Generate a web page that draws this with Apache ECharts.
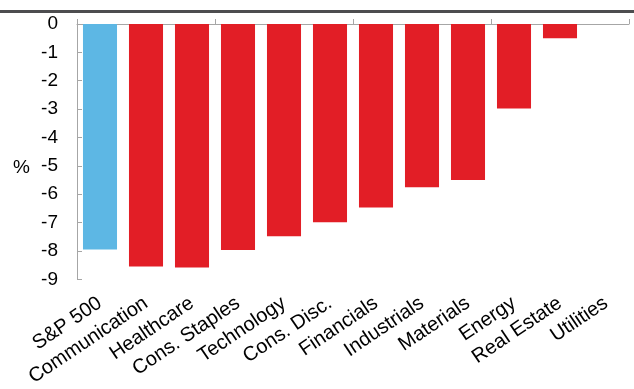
<!DOCTYPE html>
<html>
<head>
<meta charset="utf-8">
<script src="https://cdn.jsdelivr.net/npm/echarts@6/dist/echarts.min.js"></script>
<style>
  html, body { margin: 0; padding: 0; background: #fff; }
  #chart { width: 634px; height: 389px; }
</style>
</head>
<body>
<div id="chart"></div>
<script>
// Sector returns, in percent
const sectors = ['S&P 500', 'Communication', 'Healthcare', 'Cons. Staples', 'Technology',
  'Cons. Disc.', 'Financials', 'Industrials', 'Materials', 'Energy', 'Real Estate', 'Utilities'];
const returns = [-7.95, -8.55, -8.58, -7.97, -7.48, -6.99, -6.47, -5.75, -5.5, -2.98, -0.5, 0];
const yTicks = [0, -1, -2, -3, -4, -5, -6, -7, -8, -9];

const indexColor = '#5DB7E4';
const sectorColor = '#E21E26';
const axisGray = '#A6A6A6';
const font = 'Liberation Sans, Arial, sans-serif';

const chart = echarts.init(document.getElementById('chart'), null, { renderer: 'canvas' });

chart.setOption({
  animation: false,
  grid: { left: 77, right: 5, top: 24, bottom: 107, containLabel: false },
  graphic: [
    { type: 'rect', left: 0, top: 10, shape: { width: 634, height: 3 }, style: { fill: '#4D4D4F' } },
    { type: 'text', left: 13, top: 158, style: { text: '%', font: '19px ' + font, fill: '#000' } }
  ],
  xAxis: [
    {
      type: 'category', data: sectors, position: 'bottom',
      axisLine: { show: false, onZero: false }, axisTick: { show: false },
      axisLabel: { rotate: 34, interval: 0, margin: 22, color: '#000', fontSize: 20, fontFamily: font }
    },
    {
      type: 'category', data: sectors, position: 'top',
      axisLine: { show: true, onZero: false, lineStyle: { color: axisGray, width: 1 } },
      axisTick: { show: true, length: 5, lineStyle: { color: axisGray } },
      axisLabel: { show: false }
    }
  ],
  yAxis: {
    type: 'value', min: -9, max: 0, interval: 1,
    axisLine: { show: true, lineStyle: { color: axisGray, width: 1 } },
    axisTick: { show: true, inside: true, length: 5, lineStyle: { color: axisGray } },
    splitLine: { show: false },
    axisLabel: {
      margin: 19, color: '#000', fontSize: 19, fontFamily: font,
      formatter: v => (yTicks.includes(v) ? String(v) : '')
    }
  },
  series: [{
    type: 'bar',
    xAxisIndex: 0,
    barCategoryGap: '26%',
    data: returns.map((v, i) => ({
      value: v,
      itemStyle: { color: i === 0 ? indexColor : sectorColor }
    }))
  }]
});
</script>
</body>
</html>
